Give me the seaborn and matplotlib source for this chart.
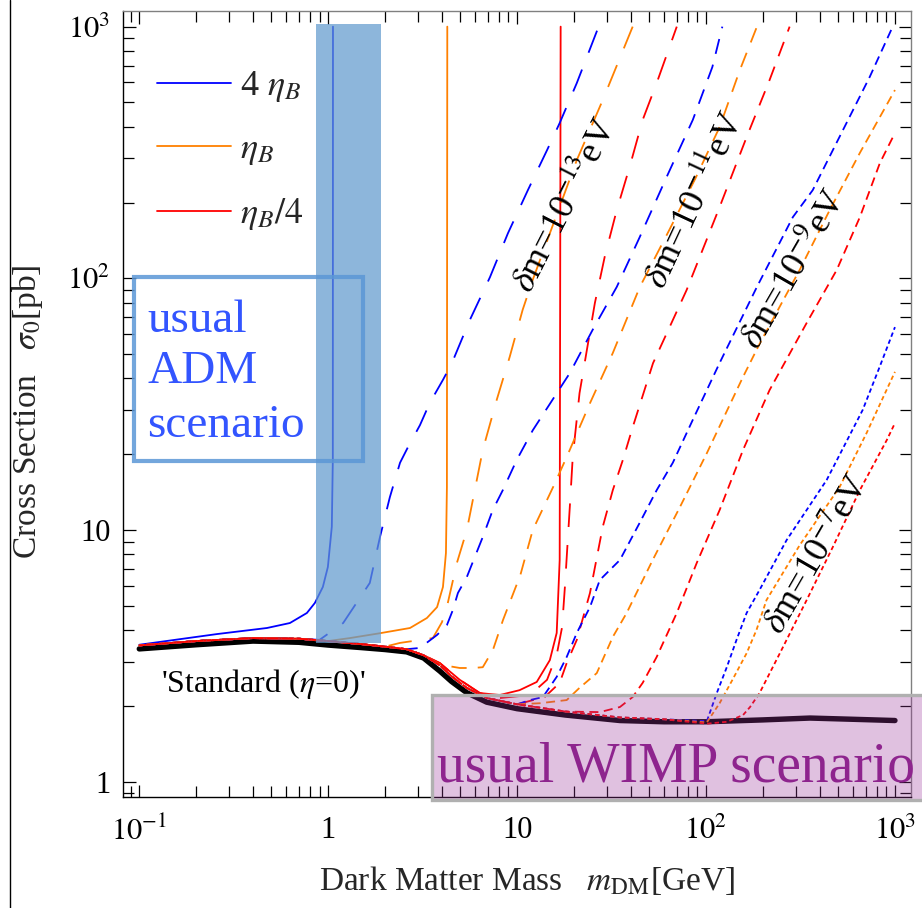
import matplotlib
matplotlib.use("Agg")
import matplotlib.pyplot as plt
import seaborn as sns
import pandas as pd
from matplotlib.patches import Rectangle
from matplotlib.lines import Line2D

sns.set_theme(style="ticks")
plt.rcParams.update({
    "font.family": ["Liberation Serif", "DejaVu Serif"],
    "mathtext.fontset": "stix",
    "lines.scale_dashes": False,
    "axes.linewidth": 1.0,
    "axes.edgecolor": "black",
})

# ---------------------------------------------------------------- data
# standard freeze-out (eta = 0), mass in GeV, cross section in pb
mass_std = [0.1, 0.2, 0.4, 0.7, 1.0, 1.5, 2.0, 2.6, 3.2, 3.9, 4.5, 5.4, 6.9,
            10, 18, 35, 60, 100, 200, 355, 600, 1000]
sigma_std = [3.37, 3.50, 3.62, 3.58, 3.49, 3.41, 3.35, 3.28, 3.10, 2.75, 2.50,
             2.26, 2.07, 1.95, 1.84, 1.75, 1.73, 1.73, 1.76, 1.79, 1.77, 1.75]

# low-mass branch shared by the asymmetric curves
mass_low = [0.1, 0.2, 0.4, 0.7, 1.0, 1.5, 2.0]
sigma_low = [3.48, 3.62, 3.72, 3.70, 3.62, 3.52, 3.44]

# common continuation along the standard curve
mass_mid = [2.6, 3.2, 3.9, 4.5, 5.4, 6.9, 10]
sigma_mid = [3.36, 3.18, 2.90, 2.62, 2.36, 2.15, 2.03]

# delta m = 0 (solid)
mass_4eta_0 = [0.1, 0.258, 0.474, 0.627, 0.771, 0.850, 0.937, 0.996, 1.045, 1.058, 1.06]
sigma_4eta_0 = [3.50, 3.86, 4.08, 4.27, 4.68, 5.13, 5.94, 7.13, 10.3, 19.0, 1000]
mass_eta_0 = [0.1, 0.2, 0.4, 0.7, 1.0, 1.3, 1.88, 2.71, 3.33, 3.77, 4.05, 4.20, 4.25, 4.27]
sigma_eta_0 = [3.48, 3.62, 3.72, 3.70, 3.62, 3.72, 3.89, 4.08, 4.47, 4.94, 5.94, 8.1, 14.8, 1000]
mass_eta4_0 = [2.6, 3.2, 3.9, 4.97, 6.35, 8.1, 10.3, 12.7, 14.9, 16.2, 16.8, 17.0]
sigma_eta4_0 = [3.36, 3.18, 2.96, 2.54, 2.25, 2.21, 2.31, 2.49, 3.04, 3.90, 7.6, 1000]

# delta m = 1e-13 eV
mass_4eta_13 = [0.90, 1.20, 1.66, 1.88, 2.12, 2.40, 2.64, 3.06, 3.45, 4.05, 4.52, 5.62,
                7.18, 8.94, 11.4, 14.4, 16.8, 20.7, 27.0]
sigma_4eta_13 = [3.66, 4.27, 6.16, 9.38, 13.5, 18.5, 21.3, 26.1, 32.0, 39.5, 46.1, 68.3,
                 101, 151, 224, 323, 414, 597, 1000]
mass_eta_13 = [2.4, 3.58, 4.0, 4.25, 4.80, 5.42, 6.58, 7.80, 9.14, 10.7, 12.1, 20.7, 28.4, 40.9]
sigma_eta_13 = [3.56, 3.72, 4.3, 4.95, 7.40, 10.0, 20.8, 32.9, 48.8, 75, 98.7, 295, 511, 1000]
mass_eta4_13 = [2.6, 3.2, 3.9, 4.97, 6.35, 8.1, 11.7, 14.4, 16.2, 17.3, 17.9, 19.0,
                19.7, 21.4, 25.8, 29.1, 33.7, 39.4, 46.2, 54.8, 70.0]
sigma_eta4_13 = [3.36, 3.18, 2.96, 2.54, 2.25, 2.15, 2.21, 2.54, 3.19, 4.11, 5.93, 12.3,
                 19.5, 35.0, 79.8, 122, 187, 277, 426, 597, 1000]

# delta m = 1e-11 eV
mass_4eta_11 = [2.6, 3.06, 3.77, 4.25, 4.57, 4.86, 5.42, 6.58, 7.43, 8.40, 9.96, 12.1,
                19.0, 25.1, 33.7, 44.6, 61.9, 85.1, 108, 122]
sigma_4eta_11 = [3.36, 3.40, 3.83, 4.19, 4.81, 5.62, 6.51, 9.38, 12.0, 14.4, 19.0, 24.9,
                 42.0, 62.4, 92.5, 146, 253, 426, 691, 1000]
mass_eta_11 = [2.6, 3.2, 3.9, 4.97, 5.83, 6.58, 7.45, 8.42, 10.4, 12.1, 15.5, 18.3,
               24.3, 32.1, 44.6, 64, 88, 118, 151, 186]
sigma_eta_11 = [3.36, 3.18, 2.92, 2.83, 2.83, 2.85, 3.34, 4.39, 6.62, 10.0, 14.8, 19.5,
                31.9, 50.5, 92.3, 156, 250, 399, 672, 1000]
mass_eta4_11 = [14.0, 16.8, 18.3, 20.7, 24.3, 28.4, 32.1, 36.3, 40.9, 52.4, 78.9,
                118, 164, 217, 277]
sigma_eta4_11 = [2.17, 2.47, 2.96, 3.66, 5.62, 10.3, 14.4, 19.0, 25.6, 46.0, 89.8,
                 192, 364, 614, 1000]

# delta m = 1e-9 eV
mass_4eta_9 = [11.7, 13.7, 16.2, 18.3, 20.7, 24.3, 27.4, 35.0, 44.6, 54.8, 66.7, 85.1,
               118, 186, 288, 367, 469, 735, 973]
sigma_4eta_9 = [2.11, 2.17, 2.61, 3.13, 3.90, 4.94, 6.33, 7.60, 10.7, 14.4, 18.5, 27.4,
                46.1, 92.5, 175, 224, 323, 631, 1000]
mass_eta_9 = [13.2, 18.3, 21.4, 26.4, 32.1, 38.0, 52.2, 72.6, 101, 157, 193, 313, 452,
              652, 1000]
sigma_eta_9 = [2.05, 2.11, 2.36, 2.70, 3.76, 4.68, 7.60, 12.3, 20.2, 40.6, 55.3, 108, 187,
               315, 560]
mass_eta4_9 = [18, 27.4, 35.0, 40.9, 46.2, 54.8, 70, 89.3, 118, 157, 217, 341, 492, 652,
               832, 1000]
sigma_eta4_9 = [1.90, 1.89, 1.98, 2.17, 2.47, 3.13, 4.68, 7.40, 12.0, 20.8, 36.0, 66.5,
                108, 175, 287, 378]

# delta m = 1e-7 eV
mass_4eta_7 = [18, 35, 60, 101, 114, 129, 145, 164, 192, 267, 435, 675, 830, 1000]
sigma_4eta_7 = [1.90, 1.80, 1.77, 1.74, 2.25, 2.86, 3.66, 4.68, 5.78, 9.12, 15.8, 30.0,
                44.5, 64]
mass_eta_7 = [18, 35, 60, 101, 118, 138, 164, 185, 209, 313, 509, 708, 1000]
sigma_eta_7 = [1.90, 1.80, 1.77, 1.72, 2.05, 2.54, 3.24, 4.01, 5.27, 8.7, 14.8, 24.3, 42.5]
mass_eta4_7 = [18, 35, 60, 101, 129, 157, 171, 192, 246, 341, 469, 652, 906, 1000]
sigma_eta4_7 = [1.90, 1.80, 1.77, 1.70, 1.73, 1.84, 1.98, 2.25, 3.24, 5.27, 8.56, 14.4,
                22.8, 26.6]

# ---------------------------------------------------------------- table
colors = {"4eta": "#0000ff", "eta": "#ff8000", "eta4": "#ff0000"}
dash_styles = {"0": None, "13": (17, 13), "11": (11, 8), "9": (6.5, 4), "7": (3.2, 2.2)}

low = (mass_low, sigma_low)
low_mid = (mass_low + mass_mid, sigma_low + sigma_mid)


def branch(prefix, m, s):
    return prefix[0] + m, prefix[1] + s


series = [
    ("4eta", "0", (mass_4eta_0, sigma_4eta_0)),
    ("eta", "0", (mass_eta_0, sigma_eta_0)),
    ("eta4", "0", branch(low, mass_eta4_0, sigma_eta4_0)),
    ("4eta", "13", branch((mass_low[:4], sigma_low[:4]), mass_4eta_13, sigma_4eta_13)),
    ("eta", "13", branch(low, mass_eta_13, sigma_eta_13)),
    ("eta4", "13", branch(low, mass_eta4_13, sigma_eta4_13)),
    ("4eta", "11", branch(low, mass_4eta_11, sigma_4eta_11)),
    ("eta", "11", branch(low, mass_eta_11, sigma_eta_11)),
    ("eta4", "11", branch(low_mid, mass_eta4_11, sigma_eta4_11)),
    ("4eta", "9", branch(low_mid, mass_4eta_9, sigma_4eta_9)),
    ("eta", "9", branch(low_mid, mass_eta_9, sigma_eta_9)),
    ("eta4", "9", branch(low_mid, mass_eta4_9, sigma_eta4_9)),
    ("4eta", "7", branch(low_mid, mass_4eta_7, sigma_4eta_7)),
    ("eta", "7", branch(low_mid, mass_eta_7, sigma_eta_7)),
    ("eta4", "7", branch(low_mid, mass_eta4_7, sigma_eta4_7)),
]

frames = []
for eta, dm, (m, s) in series:
    frames.append(pd.DataFrame({"mass": m, "sigma": s, "eta": eta, "dm": dm}))
curves = pd.concat(frames, ignore_index=True)
standard = pd.DataFrame({"mass": mass_std, "sigma": sigma_std})

# ---------------------------------------------------------------- figure
fig = plt.figure(figsize=(9.22, 9.08), dpi=100)
ax = fig.add_axes([0.1334, 0.1222, 0.8543, 0.8656])
ax.set_xscale("log")
ax.set_yscale("log")

sns.lineplot(data=standard, x="mass", y="sigma", color="black", lw=3.9,
             sort=False, estimator=None, ax=ax, zorder=1.5)

for (eta, dm), grp in curves.groupby(["eta", "dm"], sort=False):
    kw = {}
    if dash_styles[dm] is not None:
        kw["dashes"] = dash_styles[dm]
    sns.lineplot(data=grp, x="mass", y="sigma", color=colors[eta], lw=1.3,
                 sort=False, estimator=None, ax=ax, zorder=2, **kw)

ax.set_xlim(0.082, 1211)
ax.set_ylim(0.869, 1153)

# shaded regions
ax.add_patch(Rectangle((0.861, 3.56), 1.90 - 0.861, 1020 - 3.56,
                       facecolor="#619ace", alpha=0.72, edgecolor="none", zorder=3))
ax.add_patch(Rectangle((0.0937, 18.8), 1.53 - 0.0937, 101 - 18.8, fill=False,
                       edgecolor="#5b97d6", alpha=0.85, lw=3.0, zorder=3.2))
ax.add_patch(Rectangle((3.54, 0.846), 1436 - 3.54, 2.21 - 0.846,
                       facecolor=(0.6, 0.2, 0.6, 0.3), edgecolor="#b0b0b0", lw=2.4,
                       zorder=3.4, clip_on=False))

# region captions
ax.text(0.110, 61.2, "usual", color="#3355ff", fontsize=34, va="baseline", zorder=5)
ax.text(0.110, 38.3, "ADM", color="#3355ff", fontsize=34, va="baseline", zorder=5)
ax.text(0.110, 23.4, "scenario", color="#3355ff", fontsize=34, va="baseline", zorder=5)
ax.text(3.76, 1.0, "usual WIMP scenario", color="#8e248e", fontsize=40,
        va="baseline", ha="left", zorder=5)
ax.text(0.452, 2.27, r"'Standard ($\eta$=0)'", fontsize=23, ha="center",
        va="baseline", color="black", zorder=5)

# mass-splitting labels along the dashed families
for label, x, y, rot in [(r"$\delta$m=10$^{-13}$eV", 17.9, 195, 63),
                         (r"$\delta$m=10$^{-11}$eV", 87, 205, 65),
                         (r"$\delta$m=10$^{-9}$eV", 294, 108, 60),
                         (r"$\delta$m=10$^{-7}$eV", 390, 7.96, 60)]:
    ax.text(x, y, label, fontsize=26, rotation=rot, rotation_mode="anchor",
            ha="center", va="center", color="black", zorder=5)

# legend
handles = [Line2D([], [], color=colors[k], lw=1.3) for k in ["4eta", "eta", "eta4"]]
ax.legend(handles, [r"4 $\eta_B$", r"$\eta_B$", r"$\eta_B/4$"], loc="upper left",
          bbox_to_anchor=(0.043, 0.926), frameon=False, fontsize=26,
          handlelength=2.05, handletextpad=0.25, labelspacing=0.8,
          borderpad=0, borderaxespad=0)

# axes styling
ax.set_xticks([0.1, 1, 10, 100, 1000], [r"$10^{-1}$", "1", "10", r"$10^{2}$", r"$10^{3}$"])
ax.set_yticks([1, 10, 100, 1000], ["1", "10", r"$10^{2}$", r"$10^{3}$"])
ax.tick_params(which="both", direction="in", top=True, right=True, width=0.9,
               labelsize=22, colors="black")
ax.tick_params(which="major", length=9)
ax.tick_params(which="minor", length=8)
ax.tick_params(axis="x", pad=14)
ax.tick_params(axis="y", pad=9)
ax.xaxis.set_minor_formatter(matplotlib.ticker.NullFormatter())
ax.yaxis.set_minor_formatter(matplotlib.ticker.NullFormatter())
for side in ["top", "right"]:
    ax.spines[side].set_color("#808080")

ax.set_xlabel(r"Dark Matter Mass   $m_{\rm DM}$[GeV]", fontsize=24, va="center")
ax.set_ylabel(r"Cross Section   $\sigma_0$[pb]", fontsize=24, va="center")
ax.xaxis.set_label_coords(0.513, -0.106)
ax.yaxis.set_label_coords(-0.121, 0.49)

fig.add_artist(Line2D([10 / 922, 10 / 922], [0, 1], color="black", lw=1.0))

fig.savefig("out.png", dpi=100)
